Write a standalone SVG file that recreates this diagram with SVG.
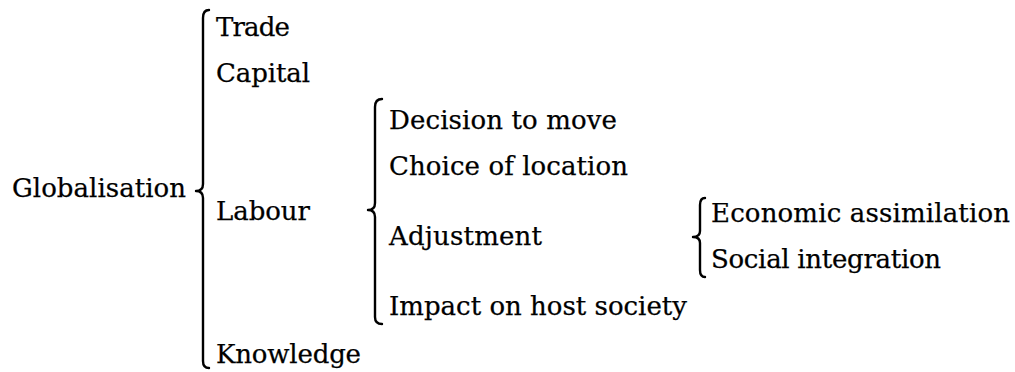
<svg xmlns="http://www.w3.org/2000/svg" width="1015" height="372" viewBox="0 0 1015 372">
<style>
text{font-family:"DejaVu Serif","Liberation Serif",serif;font-size:26px;fill:#000;stroke:#000;stroke-width:0.25}
.brace{fill:none;stroke:#000;stroke-width:2.4;stroke-linecap:round;stroke-linejoin:round}
</style>
<rect width="1015" height="372" fill="#fff"/>
<g id="connectors">
<path class="brace" d="M209,10 Q203,10 203,18 L203,184 Q203,191 196,191 Q203,191 203,198 L203,361 Q203,368 209,368"/>
<path class="brace" d="M382,99 Q375,99 375,107 L375,203 Q375,210 368,210 Q375,210 375,217 L375,317 Q375,324 382,324"/>
<path class="brace" d="M705,198 Q700,198 700,205 L700,231 Q700,237 693,237 Q700,237 700,243 L700,270 Q700,277 705,277"/>
</g>
<g id="globalisation"><text x="12" y="197" textLength="174">Globalisation</text></g>
<g id="trade"><text x="216" y="36" textLength="74">Trade</text></g>
<g id="capital"><text x="216" y="82" textLength="94">Capital</text></g>
<g id="labour"><text x="216" y="220" textLength="94">Labour</text></g>
<g id="knowledge"><text x="216" y="363" textLength="145">Knowledge</text></g>
<g id="decision"><text x="389" y="129" textLength="228">Decision to move</text></g>
<g id="choice"><text x="389" y="175" textLength="239">Choice of location</text></g>
<g id="adjustment"><text x="389" y="245" textLength="153">Adjustment</text></g>
<g id="impact"><text x="389" y="315" textLength="298">Impact on host society</text></g>
<g id="economic"><text x="711" y="222" textLength="299">Economic assimilation</text></g>
<g id="social"><text x="711" y="268" textLength="230">Social integration</text></g>
</svg>
